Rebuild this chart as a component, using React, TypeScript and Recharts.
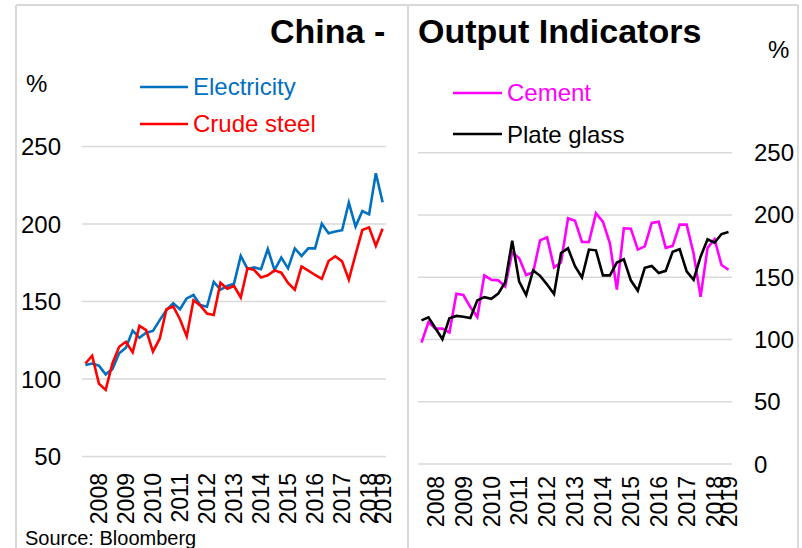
import React from "react";
import { LineChart, Line, XAxis, YAxis, CartesianGrid } from "recharts";

const quarters = [
  "2008Q1","2008Q2","2008Q3","2008Q4","2009Q1","2009Q2","2009Q3","2009Q4",
  "2010Q1","2010Q2","2010Q3","2010Q4","2011Q1","2011Q2","2011Q3","2011Q4",
  "2012Q1","2012Q2","2012Q3","2012Q4","2013Q1","2013Q2","2013Q3","2013Q4",
  "2014Q1","2014Q2","2014Q3","2014Q4","2015Q1","2015Q2","2015Q3","2015Q4",
  "2016Q1","2016Q2","2016Q3","2016Q4","2017Q1","2017Q2","2017Q3","2017Q4",
  "2018Q1","2018Q2","2018Q3","2018Q4","2019Q1",
];

const electricity = [
  109, 110, 108.6, 103, 106.4, 116.6, 120.2, 131.2, 126.6, 129.9, 131, 138,
  144.5, 148.8, 145, 152, 154.2, 147.7, 146.6, 162.6, 157.6, 160, 161.5, 179.4,
  171, 172, 170.8, 183.9, 170.3, 178.3, 171.4, 184.2, 179.4, 184.3, 184.3, 200.2,
  194, 195.1, 196, 213.8, 198.3, 208.4, 206.2, 232.7, 214,
];

const crudeSteel = [
  110, 115, 97, 93, 110, 120.8, 124, 117.2, 134.3, 131.6, 117.6, 126,
  145, 146.8, 138.6, 127.5, 150.8, 147.4, 142.2, 141.3, 162.1, 158.2, 160, 152.6,
  171.6, 170.3, 165.5, 166.9, 170.1, 168.6, 162, 157.6, 172.6, 169.9, 167.1, 164.6,
  176.1, 179.2, 175.9, 164.1, 180.3, 196.1, 197.8, 185.9, 197,
];

const cement = [
  97.5, 114, 108.7, 108.7, 105.6, 136.8, 135.7, 126, 118, 151.5, 148, 147.5,
  142.6, 170, 165.2, 151.8, 154, 179.6, 182, 157.8, 162, 197.3, 195.4, 178.3,
  178.3, 201.3, 194.6, 177.2, 140, 189.3, 189, 172.2, 174.8, 193.6, 194.6, 173.5,
  175.2, 192.2, 192.2, 169, 134.2, 173.6, 180.5, 159.8, 156,
];

const plateGlass = [
  115.3, 117.8, 109, 100.2, 117, 118.9, 118.3, 117.3, 131.4, 134, 132.7, 136.8,
  146, 179.3, 146.4, 135.7, 155.5, 151.1, 144.2, 136.5, 169.5, 173.2, 158.8, 149.8,
  172.2, 171.6, 151.5, 151.5, 161.8, 164.4, 147.5, 139.2, 157.6, 159, 153.4, 155.1,
  170.5, 172.5, 154.8, 148, 166.5, 180.5, 177.7, 184.7, 186.3,
];

const tickQuarters = [
  "2008Q3","2009Q3","2010Q3","2011Q3","2012Q3","2013Q3","2014Q3","2015Q3",
  "2016Q3","2017Q3","2018Q3","2019Q1",
];
const tickLabels = [
  "2008","2009","2010","2011","2012","2013","2014","2015","2016","2017","2018","2019",
];

const leftTicks = [50, 100, 150, 200, 250];
const rightTicks = [0, 50, 100, 150, 200, 250];

const leftData = quarters.map((q, i) => ({ q, electricity: electricity[i], crudeSteel: crudeSteel[i] }));
const rightData = quarters.map((q, i) => ({ q, cement: cement[i], plateGlass: plateGlass[i] }));

const FONT = '"Liberation Sans", Arial, sans-serif';
const GRID = "#d9d9d9";

const YearTick = (props: any) => {
  const { x, y, payload } = props;
  const idx = tickQuarters.indexOf(payload.value);
  if (idx < 0) return <g />;
  return (
    <text
      x={x}
      y={y}
      transform={`rotate(-90, ${x}, ${y})`}
      textAnchor="end"
      dy="0.36em"
      fontSize={23}
      fontFamily={FONT}
      fill="#000"
    >
      {tickLabels[idx]}
    </text>
  );
};

export default function App() {
  return (
    <div
      style={{
        position: "absolute",
        left: 0,
        top: 0,
        width: 802,
        height: 548,
        overflow: "hidden",
        background: "#fff",
        fontFamily: FONT,
      }}
    >
      <div style={{ position: "absolute", left: 0, top: 0 }}>
        <LineChart
          width={410}
          height={548}
          data={leftData}
          margin={{ top: 146.5, right: 24, bottom: 31.5, left: 0 }}
        >
          <CartesianGrid vertical={false} stroke={GRID} strokeWidth={1.5} />
          <XAxis
            dataKey="q"
            type="category"
            interval={0}
            axisLine={false}
            tickLine={false}
            tickSize={0}
            tickMargin={16.5}
            height={60}
            padding={{ left: 3.4, right: 3.4 }}
            tick={(p: any) => <YearTick {...p} />}
          />
          <YAxis
            domain={[50, 250]}
            ticks={leftTicks}
            width={82}
            axisLine={false}
            tickLine={false}
            tickSize={0}
            tickMargin={21}
            tick={{ fontSize: 24, fill: "#000", fontFamily: FONT }}
          />
          <Line
            dataKey="electricity"
            stroke="#0070C0"
            strokeWidth={2.6}
            dot={false}
            type="linear"
            isAnimationActive={false}
          />
          <Line
            dataKey="crudeSteel"
            stroke="#FF0000"
            strokeWidth={2.6}
            dot={false}
            type="linear"
            isAnimationActive={false}
          />
        </LineChart>
      </div>
      <div style={{ position: "absolute", left: 400, top: 0 }}>
        <LineChart
          width={402}
          height={548}
          data={rightData}
          margin={{ top: 152.7, right: 0, bottom: 24, left: 18 }}
        >
          <CartesianGrid vertical={false} stroke={GRID} strokeWidth={1.5} />
          <XAxis
            dataKey="q"
            type="category"
            interval={0}
            axisLine={false}
            tickLine={false}
            tickSize={0}
            tickMargin={12}
            height={60}
            padding={{ left: 3.5, right: 3.5 }}
            tick={(p: any) => <YearTick {...p} />}
          />
          <YAxis
            orientation="right"
            domain={[0, 250]}
            ticks={rightTicks}
            width={70}
            axisLine={false}
            tickLine={false}
            tickSize={0}
            tickMargin={22}
            tick={{ fontSize: 24, fill: "#000", fontFamily: FONT }}
          />
          <Line
            dataKey="cement"
            stroke="#FF00FF"
            strokeWidth={2.6}
            dot={false}
            type="linear"
            isAnimationActive={false}
          />
          <Line
            dataKey="plateGlass"
            stroke="#000000"
            strokeWidth={2.6}
            dot={false}
            type="linear"
            isAnimationActive={false}
          />
        </LineChart>
      </div>
      <svg
        width={802}
        height={548}
        style={{ position: "absolute", left: 0, top: 0, pointerEvents: "none" }}
        fontFamily={FONT}
      >
        <line x1={16} y1={5} x2={798} y2={5} stroke={GRID} strokeWidth={2} />
        <line x1={16} y1={5} x2={16} y2={548} stroke={GRID} strokeWidth={2} />
        <line x1={408} y1={5} x2={408} y2={548} stroke={GRID} strokeWidth={2} />
        <line x1={798} y1={5} x2={798} y2={548} stroke={GRID} strokeWidth={2} />

        <text x={270} y={43} fontSize={34} fontWeight="bold" fill="#000">China -</text>
        <text x={418} y={43} fontSize={34} fontWeight="bold" fill="#000">Output Indicators</text>

        <text x={26} y={92} fontSize={24} fill="#000">%</text>
        <text x={768} y={58} fontSize={24} fill="#000">%</text>

        <line x1={140} y1={87} x2={188} y2={87} stroke="#0070C0" strokeWidth={2.6} />
        <text x={193} y={95} fontSize={24} fill="#0070C0">Electricity</text>
        <line x1={140} y1={124} x2={188} y2={124} stroke="#FF0000" strokeWidth={2.6} />
        <text x={193} y={132} fontSize={24} fill="#FF0000">Crude steel</text>

        <line x1={453} y1={93} x2={502} y2={93} stroke="#FF00FF" strokeWidth={2.6} />
        <text x={507} y={101} fontSize={24} fill="#FF00FF">Cement</text>
        <line x1={453} y1={134} x2={502} y2={134} stroke="#000000" strokeWidth={2.6} />
        <text x={507} y={142.5} fontSize={24} fill="#000">Plate glass</text>

        <text x={25} y={545} fontSize={20} fill="#000">Source: Bloomberg</text>
      </svg>
    </div>
  );
}
